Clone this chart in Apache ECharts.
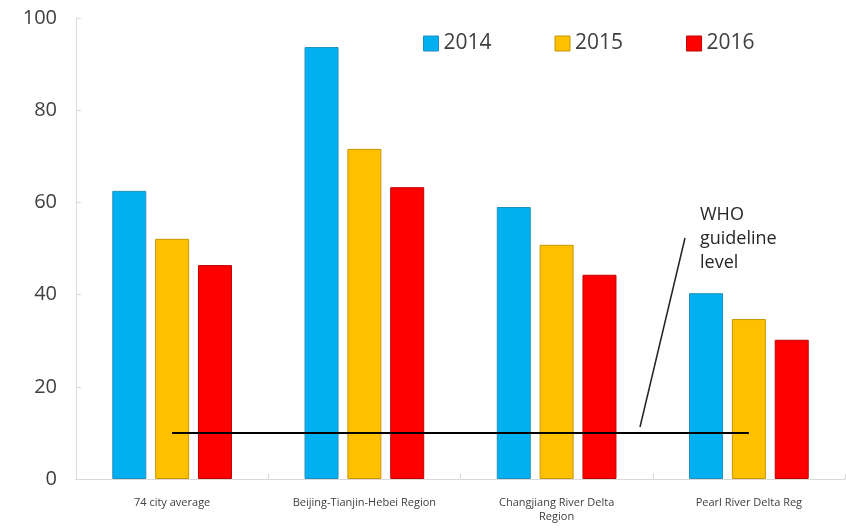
<!DOCTYPE html>
<html><head><meta charset="utf-8">
<script src="https://cdn.jsdelivr.net/npm/echarts@6/dist/echarts.min.js"></script>
<style>html,body{margin:0;padding:0;background:#fff}#c{width:846px;height:530px}</style>
</head><body><div id="c"></div>
<script>
const categories = ['74 city average', 'Beijing-Tianjin-Hebei Region', 'Changjiang River Delta\nRegion', 'Pearl River Delta Reg'];
const years = ['2014', '2015', '2016'];
const values2014 = [62.5, 93.7, 59.0, 40.3];
const values2015 = [52.1, 71.6, 50.8, 34.7];
const values2016 = [46.4, 63.3, 44.3, 30.2];
const whoLevel = [10, 10, 10, 10];
const yTicks = { min: 0, max: 100, interval: 20 };

const colors = ['#00B0F0', '#FFC000', '#FF0000'];
const borders = ['#1E8FC0', '#C89600', '#C00000'];
const seriesValues = [values2014, values2015, values2016];

const chart = echarts.init(document.getElementById('c'));
const barSeries = years.map((y, i) => ({
  name: y, type: 'bar', data: seriesValues[i],
  barWidth: 34, barGap: '26%',
  itemStyle: { color: colors[i], borderColor: borders[i], borderWidth: 1 }
}));
chart.setOption({
  animation: false,
  grid: { left: 76, right: 1, top: 18, bottom: 51 },
  legend: {
    data: years.map((y, i) => ({ name: y, itemStyle: { color: colors[i], borderColor: borders[i], borderWidth: 1 } })),
    top: 28, left: 418, itemWidth: 15, itemHeight: 15, itemGap: 63, icon: 'rect',
    textStyle: { fontSize: 21, color: '#404040', fontFamily: 'Open Sans' }
  },
  xAxis: {
    type: 'category', data: categories,
    axisLine: { lineStyle: { color: '#D9D9D9' } },
    axisTick: { show: true, inside: true, length: 5, lineStyle: { color: '#D9D9D9' } },
    axisLabel: { fontSize: 11, color: '#404040', margin: 17, fontFamily: 'Liberation Sans Narrow, Open Sans', lineHeight: 14 }
  },
  yAxis: {
    type: 'value', min: yTicks.min, max: yTicks.max, interval: yTicks.interval,
    axisLine: { show: true, lineStyle: { color: '#D9D9D9' } },
    axisTick: { show: true, inside: true, length: 5, lineStyle: { color: '#D9D9D9' } },
    splitLine: { show: false },
    axisLabel: { fontSize: 20, color: '#404040', margin: 19, fontFamily: 'Open Sans' }
  },
  series: barSeries.concat([{
    name: 'WHO', type: 'line', data: whoLevel, symbol: 'none', z: 5,
    lineStyle: { color: '#000', width: 2 }
  }]),
  graphic: [
    { type: 'text', left: 700, top: 203, style: { text: 'WHO\nguideline\nlevel', fontSize: 18, lineHeight: 24, fill: '#262626', fontFamily: 'Open Sans' } },
    { type: 'line', shape: { x1: 685, y1: 238, x2: 640, y2: 427 }, style: { stroke: '#222', lineWidth: 1.5 } }
  ]
});
</script></body></html>
